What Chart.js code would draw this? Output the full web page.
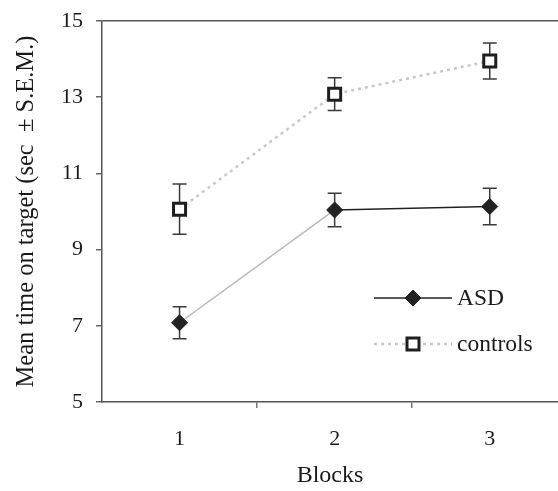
<!DOCTYPE html>
<html>
<head>
<meta charset="utf-8">
<script src="https://cdn.jsdelivr.net/npm/chart.js@4/dist/chart.umd.min.js"></script>
<style>
  html, body { margin: 0; padding: 0; background: #fff; overflow: hidden; }
</style>
</head>
<body>
<canvas id="chart" width="558" height="491"></canvas>
<script>
// data
var blocks = [1, 2, 3];
var asdMean = [7.08, 10.04, 10.13];
var asdSem = [0.42, 0.44, 0.48];
var ctrlMean = [10.06, 13.08, 13.95];
var ctrlSem = [0.66, 0.43, 0.47];
var seriesNames = ['ASD', 'controls'];
var yTicks = [5, 7, 9, 11, 13, 15];
var xTickMarks = [0.5, 1, 1.5, 2, 2.5, 3];

var serif = "'Liberation Serif', 'Times New Roman', serif";
var axisColor = '#555';

function pts(ys) {
  return blocks.map(function(b, i) { return {x: b, y: ys[i]}; });
}

// error bars, drawn under the markers
var errorBars = {
  id: 'errorBars',
  beforeDatasetsDraw: function(chart) {
    var ctx = chart.ctx;
    var xs = chart.scales.x, ys = chart.scales.y;
    var sets = [[asdMean, asdSem], [ctrlMean, ctrlSem]];
    ctx.save();
    ctx.strokeStyle = '#3a3a3a';
    ctx.lineWidth = 1.5;
    sets.forEach(function(s) {
      blocks.forEach(function(b, i) {
        var x = xs.getPixelForValue(b);
        var top = ys.getPixelForValue(s[0][i] + s[1][i]);
        var bot = ys.getPixelForValue(s[0][i] - s[1][i]);
        ctx.beginPath();
        ctx.moveTo(x, top); ctx.lineTo(x, bot);
        ctx.moveTo(x - 7, top); ctx.lineTo(x + 7, top);
        ctx.moveTo(x - 7, bot); ctx.lineTo(x + 7, bot);
        ctx.stroke();
      });
    });
    ctx.restore();
  }
};

// legend inside the plot, line + marker + label
var insideLegend = {
  id: 'insideLegend',
  afterDraw: function(chart) {
    var ctx = chart.ctx;
    var x1 = 374, x2 = 452, xm = 413;
    var rows = [298, 344];
    ctx.save();
    chart.data.datasets.forEach(function(ds, i) {
      var y = rows[i];
      ctx.beginPath();
      ctx.setLineDash(ds.legendDash || []);
      ctx.strokeStyle = ds.legendLine;
      ctx.lineWidth = ds.borderWidth;
      ctx.moveTo(x1, y); ctx.lineTo(x2, y);
      ctx.stroke();
      ctx.setLineDash([]);
      ctx.fillStyle = ds.pointBackgroundColor;
      ctx.strokeStyle = ds.pointBorderColor;
      ctx.lineWidth = ds.pointBorderWidth;
      Chart.helpers.drawPoint(ctx, {
        pointStyle: ds.pointStyle, radius: ds.pointRadius, rotation: 0,
        borderWidth: ds.pointBorderWidth
      }, xm, y);
      ctx.fillStyle = '#1a1a1a';
      ctx.font = '23.5px ' + serif;
      ctx.textAlign = 'left';
      ctx.textBaseline = 'middle';
      ctx.fillText(ds.label, x2 + 5, y + 1);
    });
    ctx.restore();
  }
};

var ctx = document.getElementById('chart').getContext('2d');
new Chart(ctx, {
  type: 'line',
  data: {
    datasets: [{
      label: seriesNames[0],
      data: pts(asdMean),
      borderWidth: 1.5,
      borderColor: '#222',
      legendLine: '#222',
      segment: {
        borderColor: function(c) { return c.p0DataIndex === 0 ? '#b8b8b8' : '#222'; }
      },
      pointStyle: 'rectRot',
      pointRadius: 8,
      pointBackgroundColor: '#222',
      pointBorderColor: '#222',
      pointBorderWidth: 1,
      clip: false
    }, {
      label: seriesNames[1],
      data: pts(ctrlMean),
      borderWidth: 2.5,
      borderColor: '#c8c8c8',
      legendLine: '#c8c8c8',
      borderDash: [3, 4],
      legendDash: [3, 4],
      pointStyle: 'rect',
      pointRadius: 8.5,
      pointBackgroundColor: '#fff',
      pointBorderColor: '#1e1e1e',
      pointBorderWidth: 3,
      clip: false
    }]
  },
  options: {
    responsive: false,
    animation: false,
    layout: { autoPadding: false, padding: { top: 21, right: 0, left: 0, bottom: 0 } },
    plugins: {
      legend: { display: false },
      tooltip: { enabled: false }
    },
    scales: {
      x: {
        type: 'linear',
        min: 0.5,
        max: 3.44,
        afterBuildTicks: function(scale) {
          scale.ticks = xTickMarks.map(function(v) { return {value: v}; });
        },
        afterFit: function(scale) {
          scale.height = 89;
          scale.paddingLeft = 0;
          scale.paddingRight = 0;
        },
        border: { color: axisColor, width: 1.5 },
        grid: {
          drawOnChartArea: false,
          tickLength: 6,
          lineWidth: 1.5,
          tickColor: function(c) {
            var v = c.tick && c.tick.value;
            return (v === 1.5 || v === 2.5) ? '#777' : 'rgba(0,0,0,0)';
          }
        },
        ticks: {
          autoSkip: false,
          maxRotation: 0,
          padding: 18,
          color: '#1a1a1a',
          font: { family: serif, size: 22 },
          callback: function(v) { return Number.isInteger(v) ? String(v) : ''; }
        },
        title: {
          display: true,
          text: 'Blocks',
          color: '#1a1a1a',
          font: { family: serif, size: 24 },
          padding: { top: 0, bottom: 1 }
        }
      },
      y: {
        min: 5,
        max: 15,
        afterBuildTicks: function(scale) {
          scale.ticks = yTicks.map(function(v) { return {value: v}; });
        },
        afterFit: function(scale) {
          scale.width = 102;
          scale.paddingTop = 0;
          scale.paddingBottom = 0;
        },
        border: { color: axisColor, width: 1.5 },
        grid: {
          drawOnChartArea: true,
          tickLength: 6,
          lineWidth: 1.5,
          color: function(c) {
            return c.tick && c.tick.value === 15 ? axisColor : 'rgba(0,0,0,0)';
          },
          tickColor: '#666'
        },
        ticks: {
          padding: 13,
          color: '#1a1a1a',
          font: { family: serif, size: 22 }
        },
        title: {
          display: true,
          text: 'Mean time on target (sec  \u00b1 S.E.M.)',
          color: '#1a1a1a',
          font: { family: serif, size: 24.5 },
          padding: { top: 12, bottom: 0 }
        }
      }
    }
  },
  plugins: [errorBars, insideLegend]
});
</script>
</body>
</html>
